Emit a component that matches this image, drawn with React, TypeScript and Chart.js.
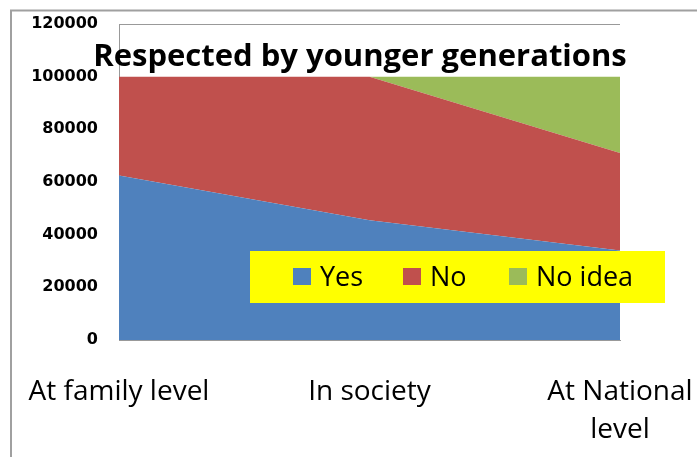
import React, { useEffect, useRef } from 'react';
import { Chart, registerables } from 'chart.js';

Chart.register(...registerables);

const categories: string[][] = [['At family level'], ['In society'], ['At National', 'level']];
const yesValues = [62500, 45500, 34000];
const noValues = [37500, 54500, 37000];
const noIdeaValues = [0, 0, 29000];
const seriesNames = ['Yes', 'No', 'No idea'];
const seriesColors = ['#4F81BD', '#C0504D', '#9BBB59'];
const yMin = 0;
const yMax = 120000;
const yStep = 20000;
const chartTitle = 'Respected by younger generations';

const decorPlugin = {
  id: 'decor',
  beforeDraw(chart: any) {
    const ctx = chart.ctx;
    ctx.save();
    ctx.strokeStyle = '#a0a0a0';
    ctx.lineWidth = 2;
    ctx.beginPath();
    ctx.moveTo(11, 457);
    ctx.lineTo(11, 10.5);
    ctx.lineTo(697, 10.5);
    ctx.stroke();
    ctx.restore();
  },
  afterDraw(chart: any) {
    const ctx = chart.ctx;
    ctx.save();
    // title
    ctx.fillStyle = '#000';
    ctx.font = 'bold 31px "Open Sans"';
    ctx.textAlign = 'center';
    ctx.textBaseline = 'alphabetic';
    ctx.fillText(chartTitle, 360, 66);
    // legend
    ctx.fillStyle = '#FFFF00';
    ctx.fillRect(250, 251, 415, 52);
    const boxX = [293, 403, 509];
    ctx.font = '27px "Open Sans"';
    ctx.textAlign = 'left';
    chart.data.datasets.forEach((ds: any, i: number) => {
      ctx.fillStyle = ds.backgroundColor;
      ctx.fillRect(boxX[i], 268, 18, 17);
      ctx.fillStyle = '#000';
      ctx.fillText(ds.label, boxX[i] + 27, 286);
    });
    ctx.restore();
  },
};

export default function App() {
  const canvasRef = useRef<HTMLCanvasElement | null>(null);

  useEffect(() => {
    document.body.style.margin = '0';
    const canvas = canvasRef.current;
    if (!canvas) return;
    const values = [yesValues, noValues, noIdeaValues];
    const chart = new Chart(canvas, {
      type: 'line',
      data: {
        labels: categories,
        datasets: values.map((v, i) => ({
          label: seriesNames[i],
          data: v,
          backgroundColor: seriesColors[i],
          borderColor: seriesColors[i],
          borderWidth: 0,
          pointRadius: 0,
          tension: 0,
          fill: i === 0 ? 'origin' : '-1',
        })),
      },
      options: {
        responsive: false,
        animation: false,
        layout: { padding: { left: 0, right: 77, top: 24, bottom: 0 } },
        plugins: {
          legend: { display: false },
          title: { display: false },
          tooltip: { enabled: false },
        },
        scales: {
          x: {
            offset: false,
            grid: { display: false, drawTicks: false },
            border: { display: true, color: '#999', width: 1 },
            ticks: {
              maxRotation: 0,
              minRotation: 0,
              autoSkip: false,
              padding: 33,
              color: '#000',
              font: { family: 'Open Sans', size: 28, lineHeight: 1.36 },
            },
            afterFit(scale: any) {
              scale.height = 117;
              scale.paddingLeft = 0;
              scale.paddingRight = 0;
            },
          },
          y: {
            stacked: true,
            min: yMin,
            max: yMax,
            grid: {
              drawTicks: false,
              color: (c: any) => (c.tick && c.tick.value === yMax ? '#999' : 'rgba(0,0,0,0)'),
            },
            border: { display: true, color: '#999', width: 1 },
            ticks: {
              stepSize: yStep,
              padding: 21,
              color: '#000',
              font: { family: 'DejaVu Sans', size: 16, weight: 'bold' },
              callback: (v: any) => String(v),
            },
            afterFit(scale: any) {
              scale.width = 119;
              scale.paddingTop = 0;
              scale.paddingBottom = 0;
            },
          },
        },
      },
      plugins: [decorPlugin],
    });
    return () => chart.destroy();
  }, []);

  return (
    <div style={{ width: 697, height: 457, position: 'relative' }}>
      <canvas ref={canvasRef} width={697} height={457} style={{ width: 697, height: 457, display: 'block' }} />
    </div>
  );
}
